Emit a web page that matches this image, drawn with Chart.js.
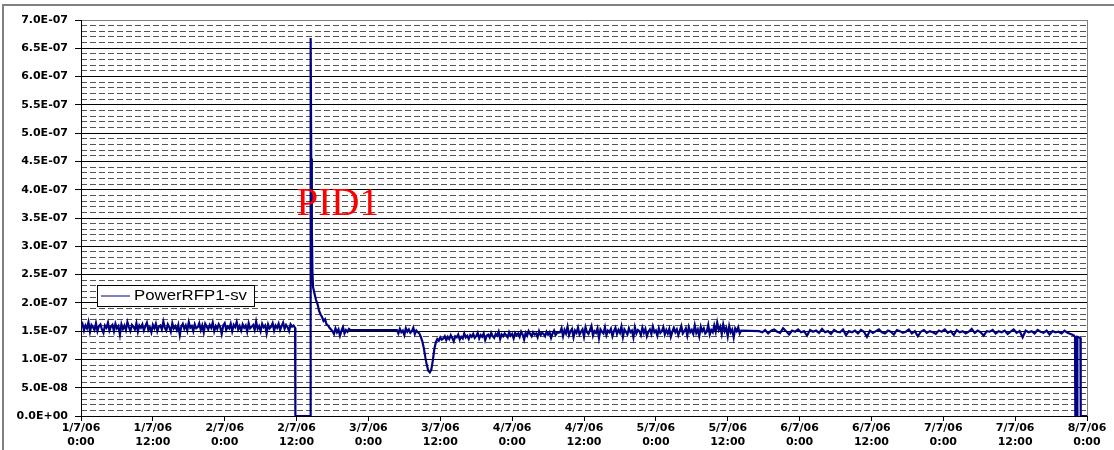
<!DOCTYPE html>
<html>
<head>
<meta charset="utf-8">
<script src="https://cdn.jsdelivr.net/npm/chart.js@4/dist/chart.umd.min.js"></script>
<style>
  html, body { margin: 0; padding: 0; background: #fff; }
  #wrap { width: 1114px; height: 450px; }
</style>
</head>
<body>
<div id="wrap"><canvas id="power" width="1114" height="450"></canvas></div>
<script>
// values are in units of 1e-9 (nano), x is hours after 1/7/06 0:00
const xDates = ['1/7/06', '1/7/06', '2/7/06', '2/7/06', '3/7/06', '3/7/06', '4/7/06', '4/7/06',
                '5/7/06', '5/7/06', '6/7/06', '6/7/06', '7/7/06', '7/7/06', '8/7/06'];
const xTimes = ['0:00', '12:00', '0:00', '12:00', '0:00', '12:00', '0:00', '12:00',
                '0:00', '12:00', '0:00', '12:00', '0:00', '12:00', '0:00'];
const yLabels = ['0.0E+00', '5.0E-08', '1.0E-07', '1.5E-07', '2.0E-07', '2.5E-07', '3.0E-07', '3.5E-07',
                 '4.0E-07', '4.5E-07', '5.0E-07', '5.5E-07', '6.0E-07', '6.5E-07', '7.0E-07'];

// 0h .. 35.75h, every 15 min
const baseA = [
  158,163,151,160,155,166,149,161,157,152,164,150,159,162,153,147,160,156,165,151,
  158,161,150,163,155,159,144,162,154,160,152,166,157,150,161,158,153,164,149,160,
  156,162,151,159,165,152,157,148,161,155,163,150,158,160,153,167,156,151,162,157,
  149,164,155,159,152,161,143,158,163,154,160,151,166,156,159,150,162,155,157,164,
  152,160,148,163,158,153,161,156,165,150,159,154,162,157,145,160,164,152,158,155,
  163,150,161,157,166,153,159,151,162,156,160,149,164,155,158,161,152,167,154,159,
  150,163,157,160,146,162,155,158,164,151,160,156,163,152,159,165,154,161,157,150,
  162,158,160,156
];
// outage and PID1 spike
const spikeHours = [35.8, 38.3, 38.35, 38.45, 38.55, 38.65, 38.75];
const spikeValues = [0, 0, 668, 455, 330, 255, 228];
// 39h .. 41.75h
const decay = [216, 205, 198, 186, 180, 175, 168, 171, 162, 160, 156, 153];
// 42h .. 45h
const settle = [150, 145, 155, 148, 153, 142, 151, 157, 146, 152, 149, 154, 152];
// 52.75h .. 56.25h
const noiseB1 = [152, 146, 154, 148, 151, 143, 155, 149, 153, 147, 150, 156, 145, 151, 148];
// 56.5h .. 60.25h
const dip = [146, 140, 132, 120, 104, 90, 80, 77, 82, 98, 118, 130, 136, 133, 139, 135];
// 60.5h .. 79.5h
const recover = [
  137,141,134,140,136,143,138,132,141,139,144,135,140,137,146,139,142,136,143,140,
  145,138,141,147,137,143,140,146,134,142,144,139,147,141,138,145,142,149,136,144,
  141,146,143,139,148,142,145,137,147,143,146,140,149,144,135,147,142,150,145,141,
  148,144,146,139,150,143,147,145,141,149,144,148,138,146,151,143,147
];
// 80h .. 105.5h
const dense = [
  148,155,141,152,146,158,143,150,154,139,151,147,156,144,149,153,140,157,148,145,
  152,159,142,150,147,155,138,153,149,146,157,143,151,148,154,141,150,156,145,152,
  147,158,140,153,149,144,155,148,151,139,157,146,152,150,143,156,147,154,141,149,
  153,145,158,148,151,142,155,147,150,157,144,152,146,154,140,149,156,148,153,143,
  151,159,146,150,155,142,157,148,152,145,160,147,153,141,158,150,155,146,149,161,
  144,152,148
];
// 105.75h .. 110.25h
const bump = [160,149,165,152,158,145,162,150,156,141,159,148,153,139,155,150,157,146,151];
// 113.25h .. 165.75h, every 30 min
const sparse = [
  150,148,152,146,151,153,149,147,155,150,144,151,149,153,148,150,142,152,149,151,
  147,154,148,150,145,152,149,148,153,143,150,148,151,146,152,149,140,151,147,150,
  153,148,146,151,149,144,152,150,147,149,153,146,150,141,149,152,147,150,148,145,
  151,149,153,147,150,143,152,148,150,146,149,154,147,151,148,142,150,149,152,146,
  150,148,151,145,149,153,147,150,139,151,148,150,146,152,149,147,151,144,150,148,
  149,146,151,147,145,143
];
const endHours = [166.0, 166.05, 166.35, 166.4, 166.9, 166.95, 168];
const endValues = [140, 0, 0, 140, 138, 0, 0];

function series(t0, dt, vals) {
    return vals.map((v, i) => ({ x: t0 + i * dt, y: v }));
}
function pairs(hours, vals) {
    return hours.map((h, i) => ({ x: h, y: vals[i] }));
}

const points = [].concat(
    series(0, 0.25, baseA),
    pairs(spikeHours, spikeValues),
    series(39, 0.25, decay),
    series(42, 0.25, settle),
    series(52.75, 0.25, noiseB1),
    series(56.5, 0.25, dip),
    series(60.5, 0.25, recover),
    series(80, 0.25, dense),
    series(105.75, 0.25, bump),
    series(113.25, 0.5, sparse),
    pairs(endHours, endValues)
);

const tickFont = { family: '"DejaVu Sans", Verdana, sans-serif', size: 11, weight: 'bold' };

const framePlugin = {
    id: 'frame',
    beforeDraw(chart) {
        const c = chart.ctx;
        c.save();
        c.fillStyle = '#fff';
        c.fillRect(0, 0, chart.width, chart.height);
        c.strokeStyle = '#808080';
        c.lineWidth = 2;
        c.beginPath();
        c.moveTo(3, chart.height);
        c.lineTo(3, 5);
        c.lineTo(chart.width, 5);
        c.stroke();
        c.restore();
    },
    afterDraw(chart) {
        const c = chart.ctx;
        const a = chart.chartArea;
        c.save();
        // right edge of plot area
        c.strokeStyle = '#808080';
        c.lineWidth = 1;
        c.beginPath();
        c.moveTo(a.right + 0.5, a.top);
        c.lineTo(a.right + 0.5, a.bottom);
        c.stroke();

        // legend box
        const ds = chart.data.datasets[0];
        c.fillStyle = '#fff';
        c.fillRect(97, 285, 157, 21);
        c.strokeStyle = '#000';
        c.strokeRect(97.5, 285.5, 157, 21);
        c.strokeStyle = ds.borderColor;
        c.beginPath();
        c.moveTo(101, 296);
        c.lineTo(130, 296);
        c.stroke();
        c.fillStyle = '#000';
        c.font = '14px "Liberation Sans", Arial, sans-serif';
        c.textBaseline = 'middle';
        c.save();
        c.translate(134, 296);
        c.scale(1.2, 1);
        c.fillText(ds.label, 0, 0);
        c.restore();

        // PID1 note
        const xs = chart.scales.x, ys = chart.scales.y;
        c.fillStyle = '#ff0000';
        c.font = '39px "Liberation Serif", "Times New Roman", serif';
        c.textBaseline = 'alphabetic';
        c.fillText('PID1', xs.getPixelForValue(36), ys.getPixelForValue(355));
        c.restore();
    }
};

new Chart(document.getElementById('power'), {
    type: 'line',
    data: {
        datasets: [{
            label: 'PowerRFP1-sv',
            data: points,
            borderColor: '#000080',
            borderWidth: 2.2,
            pointRadius: 0,
            tension: 0,
            fill: false,
            yAxisID: 'y'
        }]
    },
    options: {
        responsive: false,
        animation: false,
        layout: { padding: { left: 0, right: 27, top: 20, bottom: 0 } },
        plugins: { legend: { display: false }, tooltip: { enabled: false } },
        scales: {
            x: {
                type: 'linear',
                min: 0,
                max: 168,
                ticks: {
                    stepSize: 12,
                    autoSkip: false,
                    maxRotation: 0,
                    padding: 1,
                    color: '#000',
                    font: tickFont,
                    callback: (v, i) => [xDates[i], xTimes[i]]
                },
                grid: { drawOnChartArea: false, tickLength: 5, tickColor: '#000' },
                border: { color: '#000' },
                afterFit: s => { s.height = 34; }
            },
            y: {
                position: 'left',
                min: 0,
                max: 700,
                ticks: {
                    stepSize: 50,
                    padding: 7,
                    color: '#000',
                    font: tickFont,
                    callback: (v, i) => yLabels[i]
                },
                grid: {
                    color: ctx => ctx.tick && ctx.tick.value === 700 ? '#808080' : '#000',
                    tickLength: 6,
                    tickColor: '#000'
                },
                border: { color: '#000' },
                afterFit: s => { s.width = 81; }
            },
            yMinor: {
                position: 'left',
                min: 0,
                max: 700,
                ticks: { stepSize: 10, display: false },
                grid: {
                    drawTicks: false,
                    color: ctx => ctx.tick && ctx.tick.value % 50 === 0 ? 'rgba(0,0,0,0)' : '#555'
                },
                border: { display: false, dash: [6, 3] },
                afterFit: s => { s.width = 0; }
            }
        }
    },
    plugins: [framePlugin]
});
</script>
</body>
</html>
